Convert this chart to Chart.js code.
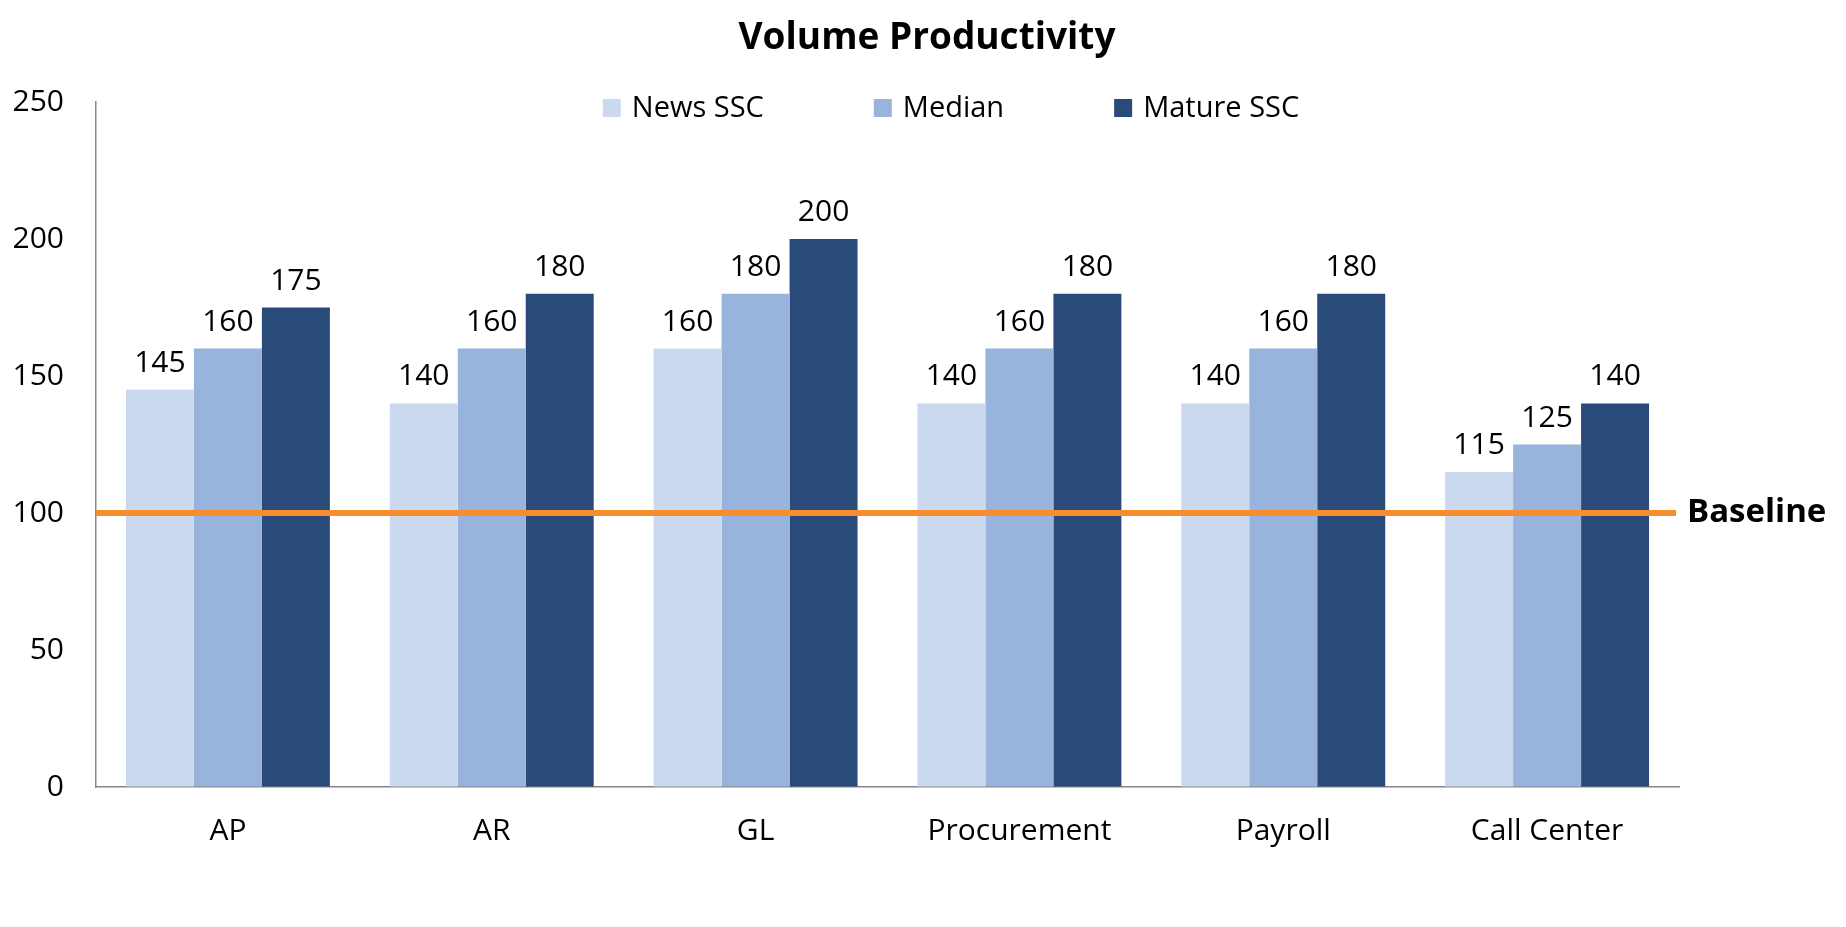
<!DOCTYPE html>
<html>
<head>
<meta charset="utf-8">
<title>Volume Productivity</title>
<script src="https://cdn.jsdelivr.net/npm/chart.js@4.4.1/dist/chart.umd.min.js"></script>
<style>
    html, body { margin: 0; padding: 0; background: #ffffff; }
    #wrap { width: 1846px; height: 927px; position: relative; }
</style>
</head>
<body>
<div id="wrap"><canvas id="chart"></canvas></div>
<script>
'use strict';

const categories = ['AP', 'AR', 'GL', 'Procurement', 'Payroll', 'Call Center'];
const newsSSC = [145, 140, 160, 140, 140, 115];
const median = [160, 160, 180, 160, 160, 125];
const matureSSC = [175, 180, 200, 180, 180, 140];
const seriesNames = ['News SSC', 'Median', 'Mature SSC'];
const yTicks = [0, 50, 100, 150, 200, 250];
const baselineValue = 100;
const baselineLabel = 'Baseline';
const chartTitle = 'Volume Productivity';

const colors = ['#CBD9EE', '#98B3DC', '#2A4A7A'];
const FONT = '"Open Sans", "DejaVu Sans", sans-serif';

// titulo, legenda, rotulos e linha de base desenhados a mao
const annotationsPlugin = {
    id: 'annotations',
    afterDatasetsDraw(chart) {
        const { ctx, chartArea, scales } = chart;
        ctx.save();

        // linha de base
        const yb = scales.y.getPixelForValue(baselineValue);
        ctx.strokeStyle = '#F68D2E';
        ctx.lineWidth = 6;
        ctx.beginPath();
        ctx.moveTo(chartArea.left, yb);
        ctx.lineTo(chartArea.right - 3, yb);
        ctx.stroke();

        ctx.fillStyle = '#000000';
        ctx.font = 'bold 33px ' + FONT;
        ctx.textAlign = 'left';
        ctx.textBaseline = 'middle';
        ctx.fillText(baselineLabel, chartArea.right + 8, yb);

        // valores sobre as barras
        ctx.font = '30px ' + FONT;
        ctx.textAlign = 'center';
        ctx.textBaseline = 'alphabetic';
        chart.data.datasets.forEach((ds, i) => {
            chart.getDatasetMeta(i).data.forEach((bar, j) => {
                ctx.fillText(String(ds.data[j]), bar.x, bar.y - 18);
            });
        });

        // titulo
        ctx.font = 'bold 37px ' + FONT;
        ctx.fillText(chartTitle, 927, 49);

        // legenda
        ctx.font = '29px ' + FONT;
        ctx.textAlign = 'left';
        const box = 18, gap = 11, spacing = 110;
        const widths = seriesNames.map(n => box + gap + ctx.measureText(n).width);
        const total = widths.reduce((a, b) => a + b, 0) + spacing * (widths.length - 1);
        let x = 951 - total / 2;
        seriesNames.forEach((name, i) => {
            ctx.fillStyle = colors[i];
            ctx.fillRect(x, 99, box, box);
            ctx.fillStyle = '#000000';
            ctx.fillText(name, x + box + gap, 117);
            x += widths[i] + spacing;
        });

        ctx.restore();
    }
};

const ctx = document.getElementById('chart').getContext('2d');

new Chart(ctx, {
    type: 'bar',
    data: {
        labels: categories,
        datasets: [
            { label: seriesNames[0], data: newsSSC, backgroundColor: colors[0] },
            { label: seriesNames[1], data: median, backgroundColor: colors[1] },
            { label: seriesNames[2], data: matureSSC, backgroundColor: colors[2] }
        ]
    },
    options: {
        responsive: true,
        maintainAspectRatio: false,
        animation: false,
        datasets: {
            bar: { categoryPercentage: 0.773, barPercentage: 1.0, borderWidth: 0 }
        },
        layout: { padding: { top: 102, left: 0, right: 167, bottom: 52 } },
        plugins: {
            legend: { display: false },
            title: { display: false },
            tooltip: { enabled: false }
        },
        scales: {
            x: {
                grid: { drawOnChartArea: false, drawTicks: false },
                border: { display: true, color: '#868686', width: 1.5 },
                ticks: { color: '#000000', padding: 26, font: { family: FONT, size: 30 } }
            },
            y: {
                min: yTicks[0],
                max: yTicks[yTicks.length - 1],
                afterBuildTicks: (axis) => { axis.ticks = yTicks.map(v => ({ value: v })); },
                afterFit: (axis) => { axis.width = 96; },
                grid: { drawOnChartArea: false, drawTicks: false },
                border: { display: true, color: '#868686', width: 1.5 },
                ticks: { color: '#000000', padding: 32, font: { family: FONT, size: 30 } }
            }
        }
    },
    plugins: [annotationsPlugin]
});
</script>
</body>
</html>
